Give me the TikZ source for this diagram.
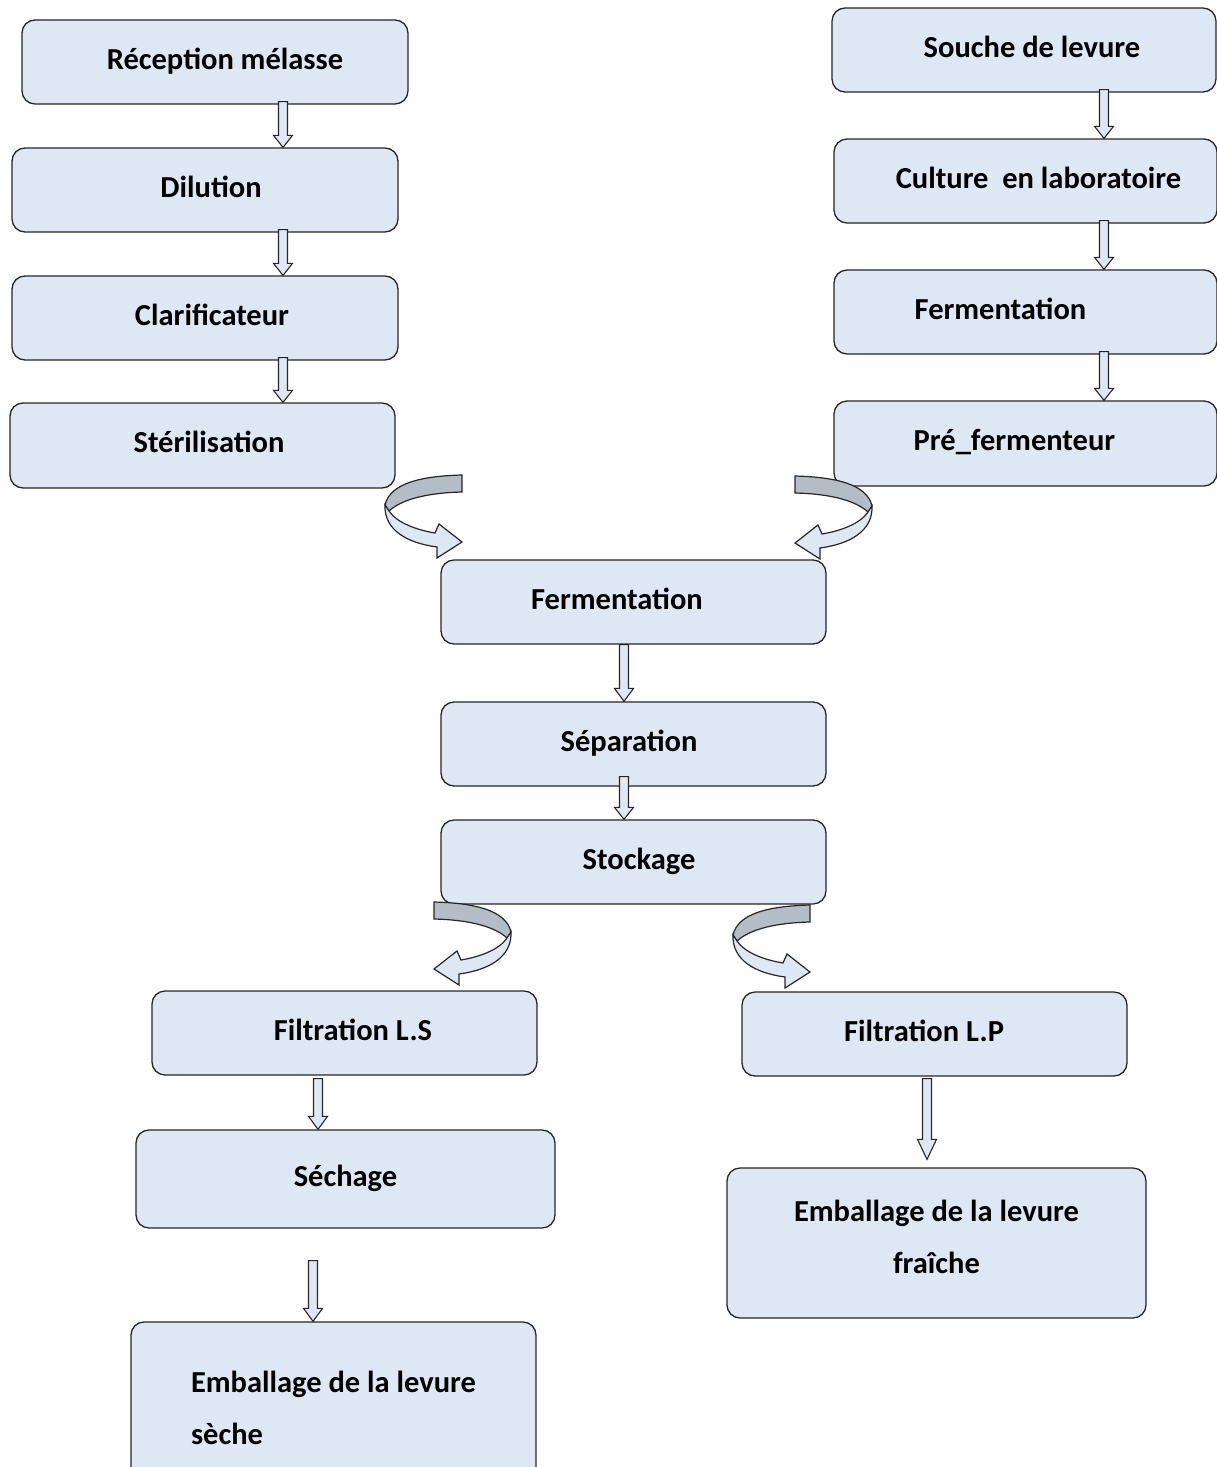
\documentclass[tikz,border=0pt]{standalone}
\usepackage{fontspec}
\setmainfont{Carlito}
\usetikzlibrary{calc}
\definecolor{boxblue}{HTML}{DEE8F5}
\definecolor{ribgray}{HTML}{B4BCC5}
\tikzset{
 box/.style={draw=black!85, line width=1.3pt, fill=boxblue, rounded corners=13pt,
   font=\fontsize{30.5}{52}\selectfont\bfseries, inner sep=0pt},
 one/.style={text height=20pt, text depth=6pt},
 barrow/.style={draw=black!85, line width=1.1pt, fill=boxblue, line join=miter},
 curvgray/.style={draw=black!85, line width=1.2pt, fill=ribgray},
 curvblue/.style={draw=black!85, line width=1.2pt, fill=boxblue},
}
% block arrow: x, from, to, top gap, bottom gap, head length
\newcommand\barr[6]{%
 \path[barrow] let \p1=(#2.south), \p2=(#3.north) in
  ({#1pt-4.5pt},{\y1-(#4pt)}) -- ({#1pt+4.5pt},{\y1-(#4pt)})
  -- ({#1pt+4.5pt},{\y2+(#5pt)+(#6pt)}) -- ({#1pt+9.5pt},{\y2+(#5pt)+(#6pt)})
  -- (#1pt,{\y2+(#5pt)}) -- ({#1pt-9.5pt},{\y2+(#5pt)+(#6pt)})
  -- ({#1pt-4.5pt},{\y2+(#5pt)+(#6pt)}) -- cycle;}
% curved ribbon arrow: anchor x, anchor y, mirror
\newcommand\uturn[3]{%
 \begin{scope}[shift={(#1,#2)}, xscale=#3]
  \path[curvgray] (0,0) .. controls (-40,1) and (-72,8) .. (-77,30) -- (-73,36)
     .. controls (-62,26) and (-40,18) .. (0,17) -- cycle;
  \path[curvblue] (-77,30) .. controls (-78,55) and (-55,68) .. (-25,72) -- (-25,83)
     -- (0,67) -- (-23,49) -- (-27,58) .. controls (-45,55) and (-65,48) .. (-73,36) -- cycle;
 \end{scope}}
\begin{document}
\begin{tikzpicture}[x=1pt,y=-1pt]
\useasboundingbox (0,0) rectangle (1217,1467);
% left column
\node[box, one, minimum width=386pt, minimum height=84pt] (rec) at (215,62) {\hspace*{20pt}Réception mélasse};
\node[box, one, minimum width=386pt, minimum height=84pt] (dil) at (205,190) {\hspace*{12pt}Dilution};
\node[box, one, minimum width=386pt, minimum height=84pt] (cla) at (205,318) {\hspace*{14pt}Clarificateur};
\node[box, one, minimum width=385pt, minimum height=85pt] (ste) at (202.5,445.5) {\hspace*{13pt}Stérilisation};
% right column
\node[box, one, minimum width=384pt, minimum height=84pt] (sou) at (1024,50) {\hspace*{16pt}Souche de levure};
\node[box, one, minimum width=383pt, minimum height=84pt] (cul) at (1025.5,181) {\hspace*{26pt}Culture \ en laboratoire};
\node[box, one, minimum width=383pt, minimum height=84pt] (fer) at (1025.5,312) {Fermentation\hspace*{50pt}};
\node[box, one, minimum width=383pt, minimum height=85pt] (pre) at (1025.5,443.5) {Pré\_fermenteur\hspace*{22pt}};
% centre
\node[box, one, minimum width=385pt, minimum height=84pt] (fc) at (633.5,602) {Fermentation\hspace*{33pt}};
\node[box, one, minimum width=385pt, minimum height=84pt] (sep) at (633.5,744) {Séparation\hspace*{9pt}};
\node[box, one, minimum width=385pt, minimum height=84pt] (sto) at (633.5,862) {\hspace*{11pt}Stockage};
% bottom
\node[box, one, minimum width=385pt, minimum height=84pt] (fls) at (344.5,1033) {\hspace*{17pt}Filtration L.S};
\node[box, one, minimum width=385pt, minimum height=84pt] (flp) at (934.5,1034) {Filtration L.P\hspace*{21pt}};
\node[box, one, minimum width=419pt, minimum height=98pt] (sec) at (345.5,1179) {Séchage};
\node[box, minimum width=419pt, minimum height=150pt, align=center] (emf) at (936.5,1243) {Emballage de la levure\\fraîche\rule[-12pt]{0pt}{0pt}};
\node[box, minimum width=405pt, minimum height=160pt, align=left] (ems) at (333.5,1402) {Emballage de la levure\rule{0pt}{34pt}\\sèche};
% straight block arrows
\barr{283}{rec}{dil}{-3}{0}{12}
\barr{283}{dil}{cla}{-3}{0}{12}
\barr{283}{cla}{ste}{-3}{0}{12}
\barr{1104}{sou}{cul}{-3}{0}{12}
\barr{1104}{cul}{fer}{-3}{0}{12}
\barr{1104}{fer}{pre}{-3}{0}{12}
\barr{624}{fc}{sep}{0}{0}{13}
\barr{624}{sep}{sto}{-10}{0}{12}
\barr{318}{fls}{sec}{3}{0}{13}
\barr{313}{sec}{ems}{32}{0}{13}
\barr{927}{flp}{emf}{2}{8}{20}
% curved arrows
\uturn{462}{475}{1}
\uturn{795}{476}{-1}
\uturn{434}{902}{-1}
\uturn{810}{905}{1}
\end{tikzpicture}
\end{document}
